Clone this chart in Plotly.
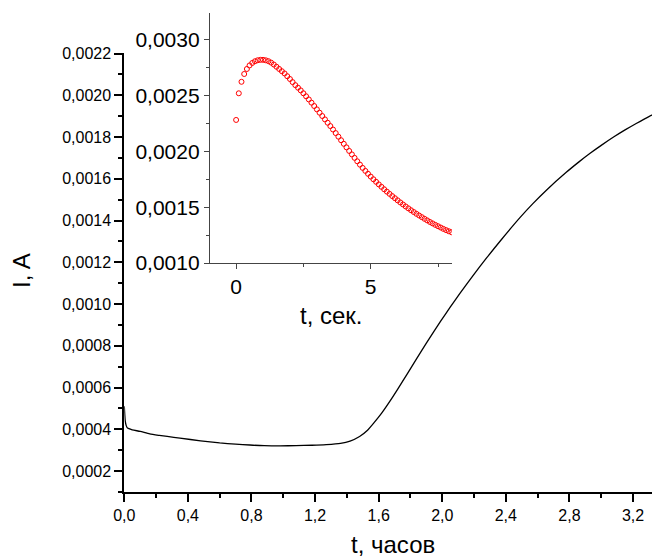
import plotly.graph_objects as go

# ---- main curve: current vs time (hours) ----
main_t_hours = [0.0, 0.003, 0.006, 0.012, 0.02, 0.05, 0.10, 0.16, 0.22, 0.27, 0.35, 0.48, 0.60,
                0.70, 0.79, 0.88, 0.98, 1.08, 1.18, 1.27, 1.36, 1.42, 1.48, 1.53, 1.57, 1.62,
                1.67, 1.72, 1.78, 1.84, 1.90, 1.99, 2.05, 2.11, 2.19, 2.28, 2.37, 2.49, 2.57,
                2.66, 2.78, 2.86, 2.93, 3.00, 3.08, 3.15, 3.22, 3.30, 3.37, 3.42]
main_current = [0.000511, 0.000470, 0.000439, 0.000418, 0.000406, 0.000398, 0.000390, 0.000378,
                0.000371, 0.000366, 0.000358, 0.000345, 0.000335, 0.000329, 0.000325, 0.000322,
                0.000321, 0.000322, 0.000324, 0.000327, 0.000333, 0.000344, 0.000366, 0.000396,
                0.000431, 0.000479, 0.000534, 0.000593, 0.000666, 0.000740, 0.000813, 0.000918,
                0.000985, 0.001050, 0.001133, 0.001222, 0.001307, 0.001415, 0.001481, 0.001549,
                0.001631, 0.001681, 0.001722, 0.001760, 0.001801, 0.001834, 0.001865, 0.001898,
                0.001923, 0.001940]

# ---- inset: current vs time (seconds) ----
inset_t_sec = [0.0, 0.1, 0.2, 0.3, 0.4, 0.5, 0.6, 0.7, 0.8, 0.9,
               1.0, 1.1, 1.2, 1.3, 1.4, 1.5, 1.6, 1.7, 1.8, 1.9,
               2.0, 2.1, 2.2, 2.3, 2.4, 2.5, 2.6, 2.7, 2.8, 2.9,
               3.0, 3.1, 3.2, 3.3, 3.4, 3.5, 3.6, 3.7, 3.8, 3.9,
               4.0, 4.1, 4.2, 4.3, 4.4, 4.5, 4.6, 4.7, 4.8, 4.9,
               5.0, 5.1, 5.2, 5.3, 5.4, 5.5, 5.6, 5.7, 5.8, 5.9,
               6.0, 6.1, 6.2, 6.3, 6.4, 6.5, 6.6, 6.7, 6.8, 6.9,
               7.0, 7.1, 7.2, 7.3, 7.4, 7.5, 7.6, 7.7, 7.8, 7.9, 8.0]
inset_current_mA = [2.283, 2.522, 2.625, 2.695, 2.740, 2.772, 2.794, 2.809, 2.818, 2.822,
                     2.822, 2.818, 2.810, 2.797, 2.780, 2.760, 2.740, 2.720, 2.700, 2.675,
                     2.650, 2.622, 2.595, 2.572, 2.548, 2.522, 2.495, 2.467, 2.438, 2.408,
                     2.378, 2.348, 2.318, 2.288, 2.258, 2.228, 2.197, 2.165, 2.133, 2.101,
                     2.069, 2.037, 2.005, 1.974, 1.943, 1.912, 1.882, 1.853, 1.826, 1.800,
                     1.775, 1.751, 1.728, 1.705, 1.683, 1.661, 1.640, 1.620, 1.600, 1.581,
                     1.562, 1.543, 1.525, 1.507, 1.490, 1.473, 1.457, 1.441, 1.426, 1.411,
                     1.396, 1.382, 1.368, 1.355, 1.342, 1.330, 1.318, 1.306, 1.295, 1.285, 1.276]
inset_current = [v / 1000.0 for v in inset_current_mA]

main_x_title = "t, часов"
main_y_title = "I, A"
inset_x_title = "t, сек."

W, H = 660, 557
OFF = 8  # page body margin offset
FONT = "Arial, Liberation Sans, sans-serif"

def px_x(p):
    return (p - OFF) / W

def px_y(p):
    return (H - (p - OFF)) / H

fig = go.Figure()
fig.add_trace(go.Scatter(x=main_t_hours, y=main_current, mode="lines",
                         line=dict(color="black", width=1.3, shape="spline", smoothing=0.6),
                         xaxis="x", yaxis="y", showlegend=False))
fig.add_trace(go.Scatter(x=inset_t_sec, y=inset_current, mode="markers",
                         marker=dict(symbol="circle-open", size=5, color="#ff0000",
                                     line=dict(width=1, color="#ff0000")),
                         xaxis="x2", yaxis="y2", showlegend=False))

fig.update_layout(
    template="none",
    width=W, height=H,
    margin=dict(l=0, r=0, t=0, b=0, pad=0, autoexpand=False),
    paper_bgcolor="white", plot_bgcolor="rgba(0,0,0,0)",
    separators=",.",
    font=dict(family=FONT, color="black"),
    xaxis=dict(domain=[px_x(124.3), 1.0], range=[0, 3.42], anchor="y", automargin=False,
               showline=True, linecolor="black", linewidth=2,
               showgrid=False, zeroline=False,
               ticks="outside", ticklen=8, tickwidth=1.5, tickcolor="black",
               tick0=0, dtick=0.4, tickformat=".1f",
               tickfont=dict(size=16, family=FONT, color="black"),
               minor=dict(dtick=0.2, ticks="outside", ticklen=4, tickwidth=1.5,
                          tickcolor="black", showgrid=False)),
    yaxis=dict(domain=[px_y(492), px_y(53.3)], range=[0.0001, 0.002201], anchor="x",
               automargin=False,
               showline=True, linecolor="black", linewidth=2,
               showgrid=False, zeroline=False,
               ticks="outside", ticklen=8, tickwidth=1.5, tickcolor="black",
               tick0=0, dtick=0.0002, tickformat=".4f",
               tickfont=dict(size=16, family=FONT, color="black"),
               minor=dict(dtick=0.0001, ticks="outside", ticklen=4, tickwidth=1.5,
                          tickcolor="black", showgrid=False)),
    xaxis2=dict(domain=[px_x(210), px_x(452)], range=[-0.97, 8.02], anchor="y2",
                automargin=False,
                showline=True, linecolor="#444444", linewidth=1.3,
                showgrid=False, zeroline=False,
                ticks="outside", ticklen=5, tickwidth=1, tickcolor="#444444",
                tick0=0, dtick=5, tickformat="d",
                tickfont=dict(size=21, family=FONT, color="black"),
                minor=dict(dtick=2.5, ticks="outside", ticklen=3, tickwidth=1,
                           tickcolor="#444444", showgrid=False)),
    yaxis2=dict(domain=[px_y(263), px_y(13)], range=[0.0010, 0.003242], anchor="x2",
                automargin=False,
                showline=True, linecolor="#444444", linewidth=1.3,
                showgrid=False, zeroline=False,
                ticks="outside", ticklen=5, tickwidth=1, tickcolor="#444444",
                tick0=0, dtick=0.0005, tickformat=".4f",
                tickfont=dict(size=21, family=FONT, color="black"),
                minor=dict(dtick=0.00025, ticks="outside", ticklen=3, tickwidth=1,
                           tickcolor="#444444", showgrid=False)),
    annotations=[
        dict(text=main_x_title, xref="paper", yref="paper", x=px_x(393), y=px_y(544),
             xanchor="center", yanchor="middle", showarrow=False,
             font=dict(size=24, family=FONT, color="black")),
        dict(text=main_y_title, xref="paper", yref="paper", x=px_x(21), y=px_y(270),
             xanchor="center", yanchor="middle", showarrow=False, textangle=-90,
             font=dict(size=24, family=FONT, color="black")),
        dict(text=inset_x_title, xref="paper", yref="paper", x=px_x(331), y=px_y(315),
             xanchor="center", yanchor="middle", showarrow=False,
             font=dict(size=24, family=FONT, color="black")),
    ],
)

fig.write_html("out.html")
